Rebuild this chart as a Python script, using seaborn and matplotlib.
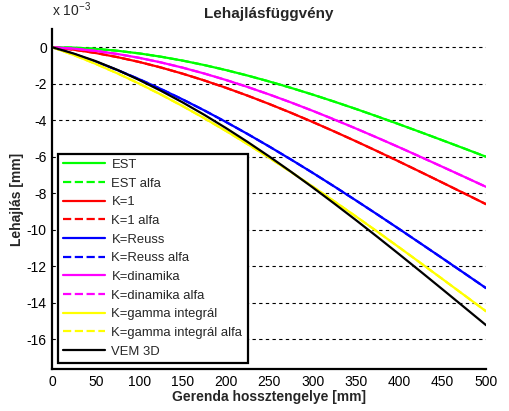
import numpy as np
import pandas as pd
import matplotlib
matplotlib.use("Agg")
import matplotlib.pyplot as plt
import seaborn as sns

# beam axis positions [mm]
x_mm = [0, 25, 50, 75, 100, 125, 150, 175, 200, 225, 250,
        275, 300, 325, 350, 375, 400, 425, 450, 475, 500]

# deflections, in units of 1e-3
est = [0, -0.022, -0.087, -0.192, -0.336, -0.516, -0.729, -0.974, -1.248, -1.549, -1.875,
       -2.223, -2.592, -2.979, -3.381, -3.797, -4.224, -4.660, -5.103, -5.550, -6.0]
k1 = [0, -0.135, -0.316, -0.540, -0.804, -1.106, -1.445, -1.816, -2.219, -2.650, -3.108,
      -3.589, -4.092, -4.614, -5.152, -5.705, -6.269, -6.844, -7.425, -8.011, -8.6]
reuss = [0, -0.373, -0.790, -1.249, -1.747, -2.283, -2.853, -3.456, -4.090, -4.751, -5.438,
         -6.148, -6.878, -7.628, -8.394, -9.173, -9.965, -10.766, -11.573, -12.385, -13.2]
dinamika = [0, -0.076, -0.200, -0.368, -0.578, -0.828, -1.115, -1.437, -1.791, -2.175, -2.586,
            -3.022, -3.480, -3.958, -4.453, -4.963, -5.485, -6.018, -6.558, -7.102, -7.65]
gamma = [0, -0.433, -0.910, -1.430, -1.990, -2.587, -3.220, -3.886, -4.582, -5.307, -6.058,
         -6.832, -7.627, -8.442, -9.272, -10.116, -10.973, -11.839, -12.712, -13.590, -14.47]
vem = [0, -0.350, -0.760, -1.240, -1.790, -2.380, -3.016, -3.698, -4.422, -5.185, -5.984,
       -6.816, -7.676, -8.565, -9.473, -10.403, -11.349, -12.308, -13.276, -14.252, -15.23]

series = [
    ("EST", est, "#00ff00", "-"),
    ("EST alfa", est, "#00ff00", "--"),
    ("K=1", k1, "#ff0000", "-"),
    ("K=1 alfa", k1, "#ff0000", "--"),
    ("K=Reuss", reuss, "#0000ff", "-"),
    ("K=Reuss alfa", reuss, "#0000ff", "--"),
    ("K=dinamika", dinamika, "#ff00ff", "-"),
    ("K=dinamika alfa", dinamika, "#ff00ff", "--"),
    ("K=gamma integrál", gamma, "#ffff00", "-"),
    ("K=gamma integrál alfa", gamma, "#ffff00", "--"),
    ("VEM 3D", vem, "#000000", "-"),
]

sns.set_theme(style="white")
plt.rcParams["font.family"] = ["Liberation Sans", "DejaVu Sans"]
plt.rcParams["font.size"] = 10
plt.rcParams["axes.unicode_minus"] = False

fig = plt.figure(figsize=(5.09, 4.11), dpi=100)
ax = fig.add_axes([0.1028, 0.1022, 0.8522, 0.8272])

for name, vals, col, ls in series:
    sns.lineplot(x=x_mm, y=vals, ax=ax, color=col, linestyle=ls, linewidth=1.6, label=name)

ax.set_xlim(0, 500)
ax.set_ylim(-17.63, 1.0)
ax.set_xticks(np.arange(0, 501, 50))
ax.set_yticks(np.arange(-16, 1, 2))
ax.tick_params(direction="in", length=4, width=1.5, colors="black", labelsize=10, pad=4)
ax.yaxis.grid(True, linestyle=(0, (3, 3)), color="black", linewidth=0.8)
ax.xaxis.grid(False)

for s in ["top", "right"]:
    ax.spines[s].set_visible(False)
for s in ["left", "bottom"]:
    ax.spines[s].set_color("black")
    ax.spines[s].set_linewidth(1.6)

ax.set_title("Lehajlásfüggvény", fontsize=11, fontweight="bold", pad=8)
ax.set_xlabel("Gerenda hossztengelye [mm]", fontsize=10, fontweight="bold", labelpad=1)
ax.set_ylabel("Lehajlás [mm]", fontsize=10, fontweight="bold", labelpad=2)
ax.text(0.0, 1.03, r"x 10$^{\mathregular{-3}}$", transform=ax.transAxes,
        fontsize=10, ha="left", va="bottom")

leg = ax.legend(loc="lower left", bbox_to_anchor=(0.013, 0.018), borderaxespad=0,
                fontsize=9.4, frameon=True, fancybox=False, framealpha=1,
                handlelength=3.2, labelspacing=0.5, borderpad=0.4, handletextpad=0.5)
leg.get_frame().set_edgecolor("black")
leg.get_frame().set_linewidth(1.6)

fig.savefig("out.png", dpi=100)
